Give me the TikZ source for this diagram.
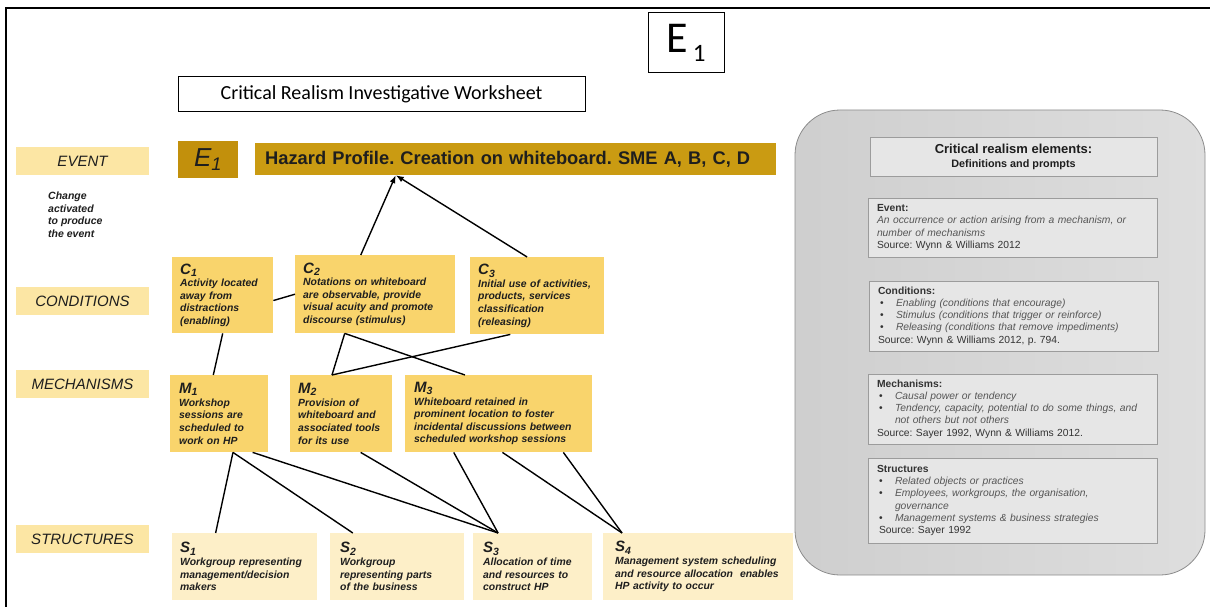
\documentclass[tikz,border=0pt]{standalone}
\usepackage{fontspec}
\setmainfont{Liberation Sans}
\newfontfamily\calibri{Carlito}
\usetikzlibrary{arrows.meta,calc}
\frenchspacing

\definecolor{rowfill}{HTML}{FCE6A4}
\definecolor{cmfill}{HTML}{F9D46C}
\definecolor{sfill}{HTML}{FDEFC8}
\definecolor{goldfill}{HTML}{CA9B12}
\definecolor{golddark}{HTML}{C2900C}
\definecolor{ink}{HTML}{1E1E1E}
\definecolor{panelbox}{HTML}{E6E6E6}
\definecolor{panelline}{HTML}{9C9C9C}
\definecolor{paneltext}{HTML}{333333}
\definecolor{panelital}{HTML}{555555}

% box heading such as C_1, M_2, S_3
\newcommand{\hd}[2]{{\fontsize{15}{15}\selectfont #1\textsubscript{#2}}}
% bulleted item and its continuation line in the definitions panel
\newcommand{\itm}[1]{\hspace*{2pt}\makebox[16pt][l]{\textbullet}\textcolor{panelital}{\textit{#1}}}
\newcommand{\itmc}[1]{\hspace*{18pt}\textcolor{panelital}{\textit{#1}}}
\newcommand{\itx}[1]{\textcolor{panelital}{\textit{#1}}}

\begin{document}
\begin{tikzpicture}[x=1pt,y=-1pt,
  rowlabel/.style={fill=rowfill, minimum width=133pt, minimum height=28pt, inner sep=0pt,
     font=\fontsize{15}{18}\selectfont\itshape, text=ink},
  ybox/.style={anchor=north west, align=left, inner ysep=0pt, text=ink,
     font=\fontsize{10.4}{12.6}\selectfont\bfseries\itshape},
  cbox/.style={ybox, fill=cmfill},
  sbox/.style={ybox, fill=sfill},
  link/.style={line width=1.4pt, black},
  tip/.style={-{Latex[length=8pt,width=6pt]}},
  pbox/.style={fill=panelbox, draw=panelline, line width=0.8pt, minimum width=289pt,
     text width=271pt, inner xsep=9pt, align=left, text=paneltext,
     font=\fontsize{10.3}{12.3}\selectfont},
]
\useasboundingbox (0,0) rectangle (1210,607);

% page frame
\draw[line width=1.6pt] (6,607) -- (6,8) -- (1210,8);

% headings
\node[draw, line width=1pt, minimum width=76pt, minimum height=60pt, inner sep=0pt,
      font=\calibri] (tag) at (686,43)
      {{\fontsize{44}{44}\selectfont E}\hspace{5pt}\raisebox{-9pt}{\fontsize{25}{25}\selectfont 1}};
\node[draw, line width=1pt, minimum width=407pt, minimum height=35pt,
      font=\calibri\fontsize{20}{24}\selectfont] (title) at (381.5,94.5)
      {Critical Realism Investigative Worksheet};

% row labels
\node[rowlabel] (lEvent) at (82.5,161) {EVENT};
\node[rowlabel] (lCond)  at (82.5,301) {CONDITIONS};
\node[rowlabel] (lMech)  at (82.5,384) {MECHANISMS};
\node[rowlabel] (lStr)   at (82.5,539) {STRUCTURES};
\node[anchor=north west, align=left, inner sep=0pt, text=ink,
      font=\fontsize{10.5}{12.5}\selectfont\bfseries\itshape] (chg) at (48,192)
      {Change\\activated\\to produce\\the event};

% event row
\node[fill=golddark, minimum width=60pt, minimum height=37pt, inner sep=0pt,
      font=\fontsize{26}{26}\selectfont\itshape, text=ink] (E1) at (208,159.5)
      {E\textsubscript{1}};
\node[fill=goldfill, anchor=west, minimum width=521pt, minimum height=32pt,
      text width=501pt, inner xsep=10pt, align=left, text=ink,
      font=\fontsize{18.3}{20}\selectfont\bfseries] (Haz) at (255,159)
      {Hazard Profile. Creation on whiteboard. SME A, B, C, D};

% conditions
\node[cbox, minimum width=101pt, minimum height=76pt, text width=85pt, inner xsep=8pt] (C1) at (172,257)
  {\hd{C}{1}\\Activity located\\away from\\distractions\\(enabling)};
\node[cbox, minimum width=160pt, minimum height=78pt, text width=144pt, inner xsep=8pt] (C2) at (295,255)
  {\hd{C}{2}\\Notations on whiteboard\\are observable, provide\\visual acuity and promote\\discourse (stimulus)};
\node[cbox, minimum width=134pt, minimum height=77pt, text width=118pt, inner xsep=8pt] (C3) at (470,257)
  {\hd{C}{3}\\Initial use of activities,\\products, services\\classification\\(releasing)};

% mechanisms
\node[cbox, minimum width=98pt, minimum height=77pt, text width=80pt, inner xsep=9pt] (M1) at (170,375)
  {\hd{M}{1}\\Workshop\\sessions are\\scheduled to\\work on HP};
\node[cbox, minimum width=102pt, minimum height=77pt, text width=86pt, inner xsep=8pt] (M2) at (290,375)
  {\hd{M}{2}\\Provision of\\whiteboard and\\associated tools\\for its use};
\node[cbox, minimum width=187pt, minimum height=77pt, text width=169pt, inner xsep=9pt] (M3) at (405,375)
  {\hd{M}{3}\\Whiteboard retained in\\prominent location to foster\\incidental discussions between\\scheduled workshop sessions};

% structures
\node[sbox, minimum width=145pt, minimum height=67pt, text width=129pt, inner xsep=8pt] (S1) at (172,533)
  {\hd{S}{1}\\Workgroup representing\\management/decision\\makers};
\node[sbox, minimum width=130pt, minimum height=67pt, text width=114pt, inner xsep=10pt] (S2) at (330,533)
  {\hd{S}{2}\\Workgroup\\representing parts\\of the business};
\node[sbox, minimum width=115pt, minimum height=67pt, text width=99pt, inner xsep=10pt] (S3) at (473,533)
  {\hd{S}{3}\\Allocation of time\\and resources to\\construct HP};
\node[sbox, minimum width=182pt, minimum height=67pt, text width=166pt, inner xsep=12pt] (S4) at (603,533)
  {\hd{S}{4}\\Management system scheduling\\and resource allocation\ \ enables\\HP activity to occur};

% connection points
\coordinate (hz)  at ($(Haz.south west)!.27!(Haz.south east)$);
\coordinate (c2t) at ($(C2.north west)!.41!(C2.north east)$);
\coordinate (c3t) at ($(C3.north west)!.425!(C3.north east)$);
\coordinate (c1e) at ($(C1.north east)!.57!(C1.south east)$);
\coordinate (c2b) at ($(C2.south west)!.31!(C2.south east)$);
\coordinate (c3b) at ($(C3.south west)!.30!(C3.south east)$);
\coordinate (m1t) at ($(M1.north west)!.44!(M1.north east)$);
\coordinate (m2t) at ($(M2.north west)!.41!(M2.north east)$);
\coordinate (m3t) at ($(M3.north west)!.32!(M3.north east)$);
\coordinate (m1b) at ($(M1.south west)!.64!(M1.south east)$);
\coordinate (m1c) at ($(M1.south west)!.84!(M1.south east)$);
\coordinate (m2b) at ($(M2.south west)!.69!(M2.south east)$);
\coordinate (m3a) at ($(M3.south west)!.26!(M3.south east)$);
\coordinate (m3b) at ($(M3.south west)!.52!(M3.south east)$);
\coordinate (m3c) at ($(M3.south west)!.845!(M3.south east)$);
\coordinate (s1t) at ($(S1.north west)!.30!(S1.north east)$);
\coordinate (s2t) at ($(S2.north west)!.17!(S2.north east)$);
\coordinate (s3t) at ($(S3.north west)!.21!(S3.north east)$);
\coordinate (s4t) at ($(S4.north west)!.10!(S4.north east)$);

% connectors
\draw[link,tip] (c2t) -- (hz);
\draw[link,tip] (c3t) -- (hz);
\draw[link] (C1.south) -- (m1t);
\draw[link] (c1e) -- (C2.west);
\draw[link] (c2b) -- (m2t);
\draw[link] (c2b) -- (m3t);
\draw[link] (c3b) -- (m2t);
\draw[link] (m1b) -- (s1t);
\draw[link] (m1b) -- (s2t);
\draw[link] (m1c) -- (s3t);
\draw[link] (m2b) -- (s3t);
\draw[link] (m3a) -- (s3t);
\draw[link] (m3b) -- (s4t);
\draw[link] (m3c) -- (s4t);

% definitions panel
\node[draw=black!45, line width=0.8pt, rounded corners=45pt, left color=black!19, right color=black!13,
      minimum width=410pt, minimum height=465pt] (panel) at (1000,342.5) {};
\node[fill=panelbox, draw=panelline, line width=0.8pt, minimum width=287pt, minimum height=39pt,
      align=center, text=ink, font=\bfseries] (ptitle) at (1013.5,156.5)
      {{\fontsize{13}{14}\selectfont Critical realism elements:}\\[2pt]{\fontsize{10.8}{13}\selectfont Definitions and prompts}};
\node[pbox, minimum height=59pt] (pEvent) at (1012.5,227.5)
  {\textbf{Event:}\\
   \itx{An occurrence or action arising from a mechanism, or}\\
   \itx{number of mechanisms}\\
   Source: Wynn \& Williams 2012};
\node[pbox, minimum height=70pt] (pCond) at (1013.5,316)
  {\textbf{Conditions:}\\
   \itm{Enabling (conditions that encourage)}\\
   \itm{Stimulus (conditions that trigger or reinforce)}\\
   \itm{Releasing (conditions that remove impediments)}\\
   Source: Wynn \& Williams 2012, p. 794.};
\node[pbox, minimum height=70pt] (pMech) at (1012.5,409)
  {\textbf{Mechanisms:}\\
   \itm{Causal power or tendency}\\
   \itm{Tendency, capacity, potential to do some things, and}\\
   \itmc{not others but not others}\\
   Source: Sayer 1992, Wynn \& Williams 2012.};
\node[pbox, minimum height=85pt] (pStr) at (1012.5,500.5)
  {\textbf{Structures}\\
   \itm{Related objects or practices}\\
   \itm{Employees, workgroups, the organisation,}\\
   \itmc{governance}\\
   \itm{Management systems \& business strategies}\\
   \hspace*{2pt}Source: Sayer 1992};
\end{tikzpicture}
\end{document}
